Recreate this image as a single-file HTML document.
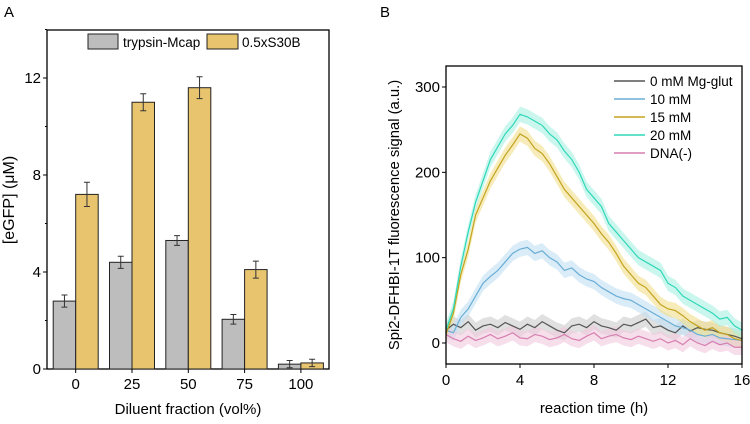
<!DOCTYPE html>
<html><head><meta charset="utf-8"><style>
body{margin:0;background:#fff;width:750px;height:419px;overflow:hidden}
svg{font-family:"Liberation Sans",Arial,sans-serif}
</style></head><body>
<svg id="c" width="750" height="419"></svg>
<script>
// Panel A data
const catsA=["0","25","50","75","100"];
const trypsin=[2.8,4.4,5.3,2.05,0.2];
const trypsinErr=[0.25,0.25,0.2,0.2,0.15];
const s30b=[7.2,11.0,11.6,4.1,0.25];
const s30bErr=[0.5,0.35,0.45,0.35,0.15];
const yTicksA=[0,4,8,12];
// Panel B data
const timeB=[0,0.4,0.8,1.2,1.6,2,2.4,2.8,3.2,3.6,4,4.4,4.8,5.2,5.6,6,6.4,6.8,7.2,7.6,8,8.4,8.8,9.2,9.6,10,10.4,10.8,11.2,11.6,12,12.4,12.8,13.2,13.6,14,14.4,14.8,15.2,15.6,16];
const mM20=[15,40,90,130,165,190,215,230,245,255,268,265,260,255,245,238,225,215,200,180,170,160,140,130,120,110,100,95,90,85,70,65,55,50,45,40,35,28,30,20,15];
const mM15=[10,35,80,110,150,170,190,205,220,232,245,240,228,222,210,195,180,170,160,150,140,128,118,105,90,80,70,65,55,45,40,38,32,25,20,15,18,12,10,5,3];
const mM10=[15,12,30,40,55,70,78,85,95,105,110,112,105,108,100,95,85,88,80,75,72,65,60,55,52,50,45,40,35,30,25,20,18,15,10,8,10,6,5,4,3];
const mM0=[15,22,18,25,15,20,22,18,24,20,16,22,18,25,20,15,12,20,22,18,25,20,18,15,22,20,24,28,18,20,15,12,20,14,18,16,15,12,10,8,5];
const dnaNeg=[10,5,2,8,3,6,10,5,8,12,6,5,10,8,4,6,10,5,3,8,12,5,8,10,6,4,8,5,2,5,0,3,-2,5,0,-3,2,-2,0,-5,-5];
const yTicksB=[0,100,200,300];
const xTicksB=[0,4,8,12,16];

const NS="http://www.w3.org/2000/svg";
const svg=document.getElementById('c');
function mk(tag,attrs,parent,text){const e=document.createElementNS(NS,tag);for(const k in attrs)e.setAttribute(k,attrs[k]);if(text!==undefined)e.textContent=text;(parent||svg).appendChild(e);return e;}

// ---- Panel A
const A={x0:47,x1:329,y0:369,y1:30};
const yA=v=>A.y0-v*24.25;
const xA=i=>75.7+i*56.3;
let t=mk('text',{x:4,y:17,'font-size':15});t.textContent='A';

let r=mk('rect',{x:A.x0,y:A.y1,width:A.x1-A.x0,height:A.y0-A.y1,fill:'none',stroke:'#000','stroke-width':1.3});

const bw=22.5;
catsA.forEach((c,i)=>{
 const cx=xA(i);
 [[trypsin,trypsinErr,'#bdbdbd',cx-bw,'bar-trypsin-'+c],[s30b,s30bErr,'#e8c46f',cx,'bar-s30b-'+c]].forEach(([vals,errs,col,x,name])=>{
  const b=mk('rect',{x:x,y:yA(vals[i]),width:bw,height:yA(0)-yA(vals[i]),fill:col,stroke:'#222','stroke-width':1});
  
  const mx=x+bw/2,t1=yA(vals[i]+errs[i]),t2=yA(vals[i]-errs[i]);
  const e=mk('path',{d:`M${mx},${t1}V${t2}M${mx-3},${t1}H${mx+3}M${mx-3},${t2}H${mx+3}`,stroke:'#333','stroke-width':1,fill:'none'});
  
 });
 mk('line',{x1:cx,x2:cx,y1:A.y0,y2:A.y0+4,stroke:'#000'});
 const l=mk('text',{x:cx,y:389,'font-size':15,'text-anchor':'middle'},svg,c);
 
});
for(let v=0;v<=14;v+=2){mk('line',{x1:A.x0-(v%4?2:4),x2:A.x0,y1:yA(v),y2:yA(v),stroke:'#000'});}
yTicksA.forEach(v=>{const l=mk('text',{x:A.x0-6,y:yA(v)+5,'font-size':15,'text-anchor':'end'},svg,String(v));
 });
t=mk('text',{x:188,y:414,'font-size':15,'text-anchor':'middle'},svg,'Diluent fraction (vol%)');

t=mk('text',{x:0,y:0,'font-size':16,'text-anchor':'middle',transform:'translate(14,200) rotate(-90)'},svg,'[eGFP] (\u03bcM)');

// legend A
let g=mk('g',{});
mk('rect',{x:88,y:34,width:30,height:15,fill:'#bdbdbd',stroke:'#222'},g);
mk('text',{x:123,y:47,'font-size':13.5},g,'trypsin-Mcap');
mk('rect',{x:207,y:34,width:31,height:15,fill:'#e8c46f',stroke:'#222'},g);
mk('text',{x:242,y:47,'font-size':13.5},g,'0.5xS30B');

// ---- Panel B
const B={x0:446,x1:742,y0:364,y1:66};
const xB=h=>B.x0+h*18.5;
const yB=v=>343-v*0.8533;
t=mk('text',{x:380,y:17,'font-size':15},svg,'B');

const series=[[mM0,'#555555','#cccccc','0 mM Mg-glut','line-0mm'],[mM10,'#6aaed6','#bfe0f2','10 mM','line-10mm'],[mM15,'#c3a21e','#f2df8a','15 mM','line-15mm'],[mM20,'#2fd8b8','#a8f0e2','20 mM','line-20mm'],[dnaNeg,'#d77fb0','#f0c8dd','DNA(-)','line-dna-neg']];
const clip=mk('clipPath',{id:'cb'});mk('rect',{x:B.x0,y:B.y1,width:B.x1-B.x0,height:B.y0-B.y1},clip);
series.forEach(([vals,col,band,label,name])=>{
 let up=timeB.map((h,i)=>`${xB(h)},${yB(vals[i]+9)}`);
 let dn=timeB.map((h,i)=>`${xB(h)},${yB(vals[i]-9)}`).reverse();
 const p=mk('polygon',{points:up.concat(dn).join(' '),fill:band,opacity:0.6,'clip-path':'url(#cb)'});
 
});
series.forEach(([vals,col,band,label,name])=>{
 const l=mk('polyline',{points:timeB.map((h,i)=>`${xB(h)},${yB(vals[i])}`).join(' '),fill:'none',stroke:col,'stroke-width':1.2,'clip-path':'url(#cb)'});
 
});
r=mk('rect',{x:B.x0,y:B.y1,width:B.x1-B.x0,height:B.y0-B.y1,fill:'none',stroke:'#000','stroke-width':1.3});

xTicksB.forEach(h=>{mk('line',{x1:xB(h),x2:xB(h),y1:B.y0,y2:B.y0+4,stroke:'#000'});
 const l=mk('text',{x:xB(h),y:385,'font-size':15,'text-anchor':'middle'},svg,String(h));
 });
yTicksB.forEach(v=>{mk('line',{x1:B.x0-4,x2:B.x0,y1:yB(v),y2:yB(v),stroke:'#000'});
 const l=mk('text',{x:B.x0-6,y:yB(v)+5,'font-size':15,'text-anchor':'end'},svg,String(v));
 });
t=mk('text',{x:594,y:413,'font-size':15,'text-anchor':'middle'},svg,'reaction time (h)');

t=mk('text',{x:0,y:0,'font-size':14.8,'text-anchor':'middle',transform:'translate(399,215) rotate(-90)'},svg,'Spi2-DFHBI-1T fluorescence signal (a.u.)');

g=mk('g',{});
series.forEach(([vals,col,band,label,name],i)=>{
 const y=81+i*18;
 mk('line',{x1:614,x2:645,y1:y,y2:y,stroke:col,'stroke-width':1.5},g);
 mk('text',{x:650,y:y+5,'font-size':13.5},g,label);
});
</script>
</body></html>
